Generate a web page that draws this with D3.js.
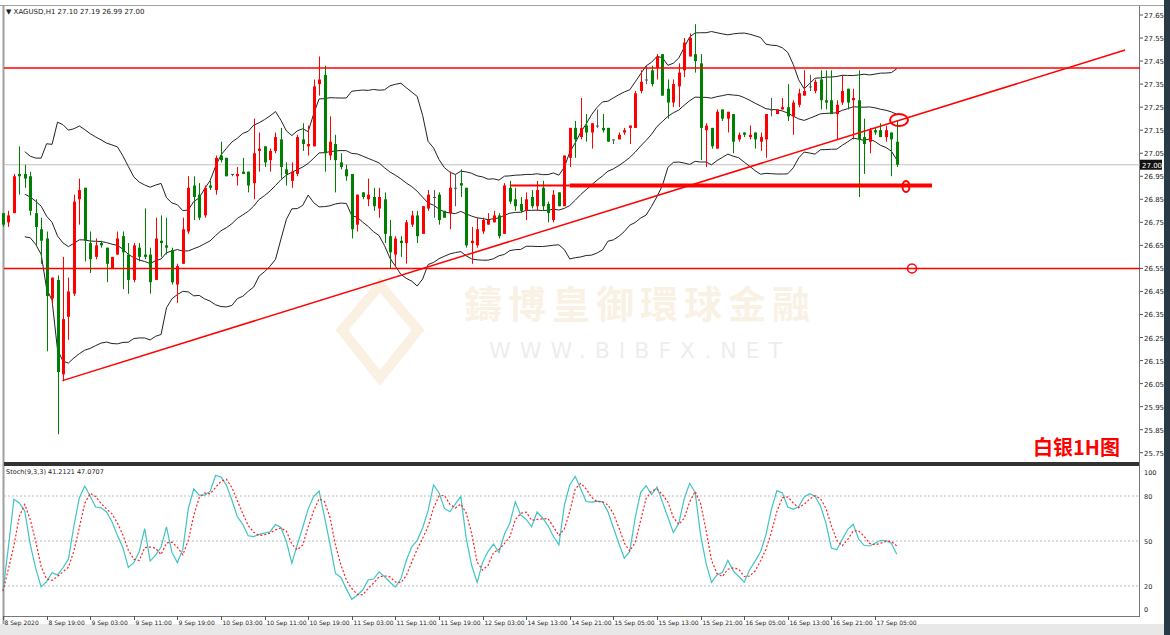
<!DOCTYPE html>
<html><head><meta charset="utf-8">
<script src="https://cdn.jsdelivr.net/npm/d3@7/dist/d3.min.js"></script>
<style>body{margin:0;background:#fff;overflow:hidden}svg{display:block}</style>
</head><body>
<script>
const opens=[26.79,26.75,26.79,26.96,26.96,26.95,26.79,26.72,26.68,26.42,26.50,26.09,26.34,26.44,26.85,26.90,26.66,26.60,26.66,26.64,26.55,26.61,26.69,26.61,26.50,26.64,26.61,26.61,26.50,26.67,26.65,26.63,26.48,26.57,26.71,26.91,26.87,26.78,26.91,26.89,27.04,27.03,26.96,26.95,26.97,26.97,26.92,27.06,27.08,27.02,27.06,27.11,26.98,26.93,26.96,27.11,27.08,27.08,27.35,27.39,27.04,27.09,27.01,26.98,26.96,26.74,26.88,26.85,26.86,26.81,26.85,26.69,26.61,26.67,26.66,26.74,26.78,26.70,26.81,26.86,26.87,26.80,26.79,26.90,26.92,26.90,26.66,26.65,26.71,26.74,26.75,26.78,26.70,26.90,26.85,26.83,26.80,26.86,26.82,26.90,26.83,26.76,26.88,26.82,27.03,27.16,27.12,27.17,27.14,27.17,27.16,27.16,27.11,27.11,27.14,27.16,27.16,27.32,27.37,27.41,27.42,27.48,27.33,27.27,27.34,27.41,27.47,27.48,27.44,27.15,27.16,27.07,27.24,27.20,27.22,27.11,27.14,27.12,27.14,27.10,27.11,27.24,27.22,27.24,27.25,27.21,27.26,27.30,27.34,27.32,27.37,27.28,27.28,27.22,27.27,27.33,27.28,27.28,27.12,27.10,27.15,27.15,27.12,27.14,27.10];
const highs=[26.79,26.80,26.96,27.08,27.00,26.97,26.85,26.77,26.71,26.51,26.52,26.60,26.51,26.87,26.94,26.90,26.71,26.68,26.67,26.64,26.60,26.71,26.71,26.66,26.66,26.66,26.81,26.64,26.77,26.78,26.77,26.64,26.57,26.77,26.95,26.95,26.92,26.91,26.93,27.04,27.10,27.03,26.96,26.99,27.03,26.97,27.20,27.14,27.08,27.07,27.14,27.16,27.01,27.01,27.13,27.18,27.17,27.37,27.47,27.43,27.21,27.13,27.05,27.00,26.96,26.87,26.88,26.94,26.90,26.90,26.88,26.76,26.69,26.69,26.76,26.80,26.80,26.82,26.89,26.89,26.88,26.80,26.97,26.96,26.98,26.90,26.73,26.77,26.77,26.79,26.80,26.79,26.92,26.93,26.90,26.86,26.88,26.89,26.93,26.93,26.84,26.89,26.88,27.04,27.16,27.19,27.29,27.22,27.18,27.24,27.22,27.16,27.11,27.14,27.16,27.17,27.32,27.41,27.43,27.43,27.48,27.48,27.37,27.37,27.44,27.55,27.57,27.61,27.48,27.18,27.16,27.24,27.24,27.23,27.22,27.14,27.14,27.17,27.14,27.14,27.22,27.29,27.24,27.29,27.35,27.28,27.33,27.41,27.39,27.37,27.41,27.41,27.41,27.28,27.39,27.33,27.33,27.41,27.20,27.16,27.16,27.18,27.17,27.14,27.19];
const lows=[26.73,26.73,26.79,26.87,26.90,26.78,26.65,26.57,26.19,26.39,25.83,26.06,26.24,26.43,26.74,26.58,26.53,26.59,26.64,26.49,26.55,26.61,26.46,26.44,26.49,26.58,26.59,26.44,26.50,26.60,26.61,26.48,26.40,26.57,26.70,26.76,26.76,26.77,26.89,26.87,27.01,26.95,26.95,26.91,26.96,26.88,26.85,26.97,26.99,26.97,27.05,26.94,26.91,26.90,26.95,27.06,27.04,27.08,27.30,26.97,27.02,26.88,26.98,26.93,26.68,26.71,26.85,26.82,26.80,26.77,26.66,26.55,26.56,26.60,26.57,26.73,26.66,26.70,26.80,26.77,26.74,26.77,26.72,26.82,26.86,26.64,26.57,26.64,26.70,26.74,26.75,26.68,26.70,26.83,26.80,26.79,26.76,26.81,26.80,26.80,26.75,26.75,26.82,26.82,26.99,27.03,27.11,27.10,27.07,27.16,27.14,27.10,27.09,27.11,27.13,27.09,27.16,27.31,27.35,27.34,27.37,27.30,27.20,27.25,27.25,27.38,27.47,27.40,27.02,26.99,27.07,27.07,27.19,27.14,27.05,27.10,27.12,27.11,27.07,27.06,27.03,27.21,27.22,27.24,27.19,27.13,27.25,27.30,27.32,27.31,27.24,27.24,27.22,27.11,27.26,27.24,27.11,26.86,26.96,27.05,27.13,27.12,27.10,26.95,26.99];
const closes=[26.74,26.78,26.95,26.95,26.94,26.80,26.73,26.67,26.43,26.51,26.10,26.33,26.45,26.84,26.89,26.67,26.59,26.65,26.65,26.57,26.60,26.68,26.62,26.50,26.65,26.60,26.60,26.49,26.68,26.66,26.64,26.49,26.56,26.72,26.90,26.86,26.77,26.90,26.90,27.03,27.02,26.95,26.96,26.96,26.96,26.91,27.05,27.07,27.01,27.06,27.12,26.99,26.96,26.97,27.12,27.09,27.09,27.34,27.37,27.05,27.10,27.02,26.99,26.95,26.72,26.87,26.86,26.87,26.82,26.86,26.70,26.62,26.68,26.66,26.75,26.78,26.69,26.82,26.87,26.86,26.76,26.77,26.90,26.90,26.91,26.65,26.67,26.72,26.76,26.76,26.78,26.69,26.91,26.84,26.82,26.80,26.85,26.82,26.89,26.82,26.79,26.87,26.82,27.04,27.16,27.11,27.16,27.14,27.18,27.17,27.15,27.10,27.11,27.13,27.15,27.17,27.31,27.36,27.37,27.35,27.47,27.30,27.27,27.35,27.40,27.53,27.55,27.45,27.16,27.17,27.08,27.23,27.20,27.23,27.10,27.13,27.13,27.13,27.11,27.12,27.22,27.24,27.24,27.25,27.21,27.27,27.31,27.32,27.34,27.36,27.28,27.27,27.22,27.26,27.32,27.27,27.29,27.11,27.09,27.15,27.14,27.12,27.15,27.11,27.00];
const timeLabels=["8 Sep 2020","8 Sep 19:00","9 Sep 03:00","9 Sep 11:00","9 Sep 19:00","10 Sep 03:00","10 Sep 11:00","10 Sep 19:00","11 Sep 03:00","11 Sep 11:00","11 Sep 19:00","12 Sep 03:00","14 Sep 13:00","14 Sep 21:00","15 Sep 05:00","15 Sep 13:00","15 Sep 21:00","16 Sep 05:00","16 Sep 13:00","16 Sep 21:00","17 Sep 05:00"];
const priceTicks=[27.65,27.55,27.45,27.35,27.25,27.15,27.05,26.95,26.85,26.75,26.65,26.55,26.45,26.35,26.25,26.15,26.05,25.95,25.85,25.75];
const stochTicks=[100,80,50,20,0];
const resistance=27.42, support=26.55, thickLevel=26.91, lastPrice=27.00;
const trendStart=[10.9,26.063], trendEnd=[205.9,27.498];

const W=1170,H=635;
const svg=d3.select("body").append("svg").attr("width",W).attr("height",H);
const F="DejaVu Sans";
const x=d3.scaleLinear().domain([0,164]).range([3,896.8]);
const y=d3.scaleLinear().domain([25.75,27.65]).range([452.7,15]);
const ys=d3.scaleLinear().domain([0,100]).range([616,466]);
const n=closes.length;

svg.append("rect").attr("x",0).attr("y",0).attr("width",W).attr("height",H).attr("fill","#fff");
svg.append("rect").attr("x",1164).attr("y",0).attr("width",6).attr("height",H).attr("fill","#2b3a47");
svg.append("rect").attr("x",0).attr("y",624).attr("width",1164).attr("height",11).attr("fill","#e8e8e8");
svg.append("line").attr("x1",0).attr("x2",1164).attr("y1",5.5).attr("y2",5.5).attr("stroke","#a0a0a0");
svg.append("line").attr("x1",3.5).attr("x2",3.5).attr("y1",5).attr("y2",624).attr("stroke","#a0a0a0").attr("stroke-width",2);
svg.append("rect").attr("x",4).attr("y",462).attr("width",1136).attr("height",4).attr("fill","#333");
svg.append("line").attr("x1",1139.5).attr("x2",1139.5).attr("y1",6).attr("y2",617).attr("stroke","#777");
svg.append("line").attr("x1",4).attr("x2",1140).attr("y1",616.5).attr("y2",616.5).attr("stroke","#777");

const wm=svg.append("g").attr("opacity",0.14);
wm.append("path").attr("d","M380,285 L418,330 L380,378 L342,330 Z").attr("fill","none").attr("stroke","#e0a040").attr("stroke-width",10);
wm.append("text").attr("x",640).attr("y",318).attr("text-anchor","middle").attr("font-family","Noto Sans CJK TC").attr("font-size",38).attr("font-weight","bold").attr("fill","#e0a050").attr("letter-spacing",6).text("鑄博皇御環球金融");
wm.append("text").attr("x",640).attr("y",358).attr("text-anchor","middle").attr("font-family",F).attr("font-size",22).attr("fill","#888").attr("letter-spacing",9).text("WWW.BIBFX.NET");

svg.append("line").attr("x1",4).attr("x2",1140).attr("y1",y(lastPrice)).attr("y2",y(lastPrice)).attr("stroke","#c0c0c0");

function boll(k){const out=[];for(let i=0;i<n;i++){if(i<4)continue;const s=closes.slice(Math.max(0,i-19),i+1);const m=d3.mean(s);const sd=Math.sqrt(d3.mean(s,v=>(v-m)*(v-m)));out.push([i,m+k*sd]);}return out;}
const ln=d3.line().x(d=>x(d[0])).y(d=>y(d[1]));
[-2,0,2].forEach(k=>svg.append("path").attr("d",ln(boll(k))).attr("fill","none").attr("stroke","#222").attr("stroke-width",1));

const g=svg.append("g");
for(let i=0;i<n;i++){
  const up=closes[i]>opens[i], eq=closes[i]===opens[i];
  const col=eq?"#555":(up?"#ff0000":"#008000");
  const cx=Math.round(x(i))+0.5;
  g.append("line").attr("x1",cx).attr("x2",cx).attr("y1",y(highs[i])).attr("y2",y(lows[i])).attr("stroke",col);
  const t=y(Math.max(opens[i],closes[i])),b=y(Math.min(opens[i],closes[i]));
  g.append("rect").attr("x",cx-1.5).attr("y",t).attr("width",3).attr("height",Math.max(1,b-t)).attr("fill",col);
}

svg.append("line").attr("x1",4).attr("x2",1140).attr("y1",y(resistance)).attr("y2",y(resistance)).attr("stroke","#ff0000").attr("stroke-width",1.5);
svg.append("line").attr("x1",4).attr("x2",1140).attr("y1",y(support)).attr("y2",y(support)).attr("stroke","#ff0000").attr("stroke-width",1.5);
svg.append("line").attr("x1",x(93)).attr("x2",x(104)).attr("y1",y(thickLevel)).attr("y2",y(thickLevel)).attr("stroke","#ff0000").attr("stroke-width",2);
svg.append("line").attr("x1",x(104)).attr("x2",932).attr("y1",y(thickLevel)).attr("y2",y(thickLevel)).attr("stroke","#ff0000").attr("stroke-width",4);
svg.append("line").attr("x1",x(trendStart[0])).attr("x2",x(trendEnd[0])).attr("y1",y(trendStart[1])).attr("y2",y(trendEnd[1])).attr("stroke","#ff0000").attr("stroke-width",1.5);
svg.append("ellipse").attr("cx",899).attr("cy",120).attr("rx",9).attr("ry",6).attr("fill","none").attr("stroke","#ff0000").attr("stroke-width",2);
svg.append("ellipse").attr("cx",906).attr("cy",y(thickLevel)+1).attr("rx",3.5).attr("ry",5.5).attr("fill","none").attr("stroke","#ff0000").attr("stroke-width",2);
svg.append("ellipse").attr("cx",912).attr("cy",y(support)).attr("rx",4.5).attr("ry",4.5).attr("fill","none").attr("stroke","#ff0000").attr("stroke-width",1.5);

priceTicks.forEach(p=>{
  svg.append("line").attr("x1",1140).attr("x2",1143).attr("y1",y(p)).attr("y2",y(p)).attr("stroke","#555");
  svg.append("text").attr("x",1144).attr("y",y(p)+3).attr("font-family",F).attr("font-size",7).attr("fill","#222").text(p.toFixed(2));
});
svg.append("rect").attr("x",1140).attr("y",y(lastPrice)-5).attr("width",22).attr("height",10).attr("fill","#111");
svg.append("text").attr("x",1142).attr("y",y(lastPrice)+3).attr("font-family",F).attr("font-size",7).attr("fill","#fff").text(lastPrice.toFixed(2));

svg.append("text").attr("x",6).attr("y",14).attr("font-family",F).attr("font-size",7).attr("fill","#222").text("▼ XAGUSD,H1  27.10 27.19 26.99 27.00");
svg.append("text").attr("x",1033).attr("y",455).attr("font-family","Noto Sans CJK SC").attr("font-size",20).attr("font-weight","bold").attr("fill","#ff0000").text("白银1H图");

const K=[],D=[];
for(let i=0;i<n;i++){
  let num=0,den=0;
  for(let j=Math.max(0,i-2);j<=i;j++){const s=Math.max(0,j-8);const hh=d3.max(highs.slice(s,j+1)),ll=d3.min(lows.slice(s,j+1));num+=closes[j]-ll;den+=hh-ll;}
  K.push(den?100*num/den:50);
}
for(let i=0;i<n;i++){D.push(d3.mean(K.slice(Math.max(0,i-2),i+1)));}
stochTicks.forEach(v=>{
  if(v>0&&v<100) svg.append("line").attr("x1",4).attr("x2",1140).attr("y1",ys(v)).attr("y2",ys(v)).attr("stroke","#bbb").attr("stroke-dasharray","2,2");
  svg.append("text").attr("x",1144).attr("y",v===100?475:(v===0?612:ys(v)+3)).attr("font-family",F).attr("font-size",6.5).attr("fill","#222").text(v);
});
const sl=d3.line().x((d,i)=>x(i)).y(d=>ys(d));
svg.append("path").attr("d",sl(K)).attr("fill","none").attr("stroke","#40c4c4").attr("stroke-width",1.2);
svg.append("path").attr("d",sl(D)).attr("fill","none").attr("stroke","#ff2020").attr("stroke-width",1.2).attr("stroke-dasharray","2,2");
svg.append("text").attr("x",6).attr("y",474).attr("font-family",F).attr("font-size",6.5).attr("fill","#222").text("Stoch(9,3,3) 41.2121 47.0707");

timeLabels.forEach((t,k)=>{
  const xx=Math.round(x(k*8))+0.5;
  svg.append("line").attr("x1",xx).attr("x2",xx).attr("y1",616).attr("y2",620).attr("stroke","#555");
  svg.append("text").attr("x",xx+1).attr("y",625).attr("font-family",F).attr("font-size",6).attr("fill","#222").text(t);
});
</script>
</body></html>
